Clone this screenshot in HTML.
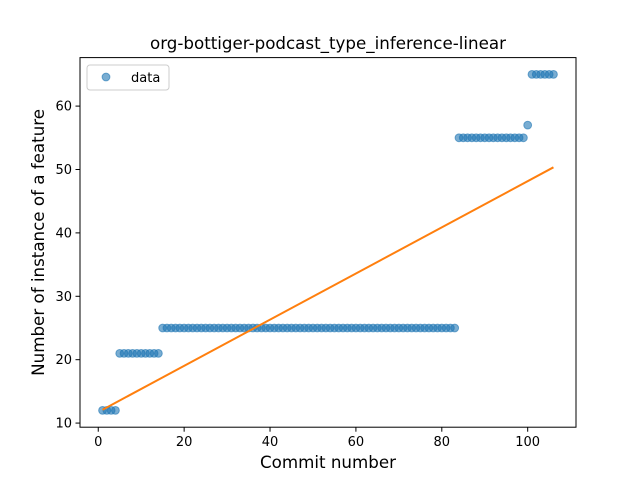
<!DOCTYPE html>
<html><head><meta charset="utf-8"><style>
body{margin:0;background:#fff}
svg{display:block;font-family:"DejaVu Sans","Liberation Sans",sans-serif}
</style></head><body>
<svg id="c" width="640" height="480" viewBox="0 0 640 480"></svg>
<script>
const xValues = [];
for (let i = 1; i <= 106; i++) xValues.push(i);
const yValues = [12,12,12,12,21,21,21,21,21,21,21,21,21,21,
25,25,25,25,25,25,25,25,25,25,25,25,25,25,25,25,25,25,25,25,25,25,25,25,25,25,25,25,25,25,25,25,25,25,25,25,25,25,25,25,25,25,25,25,25,25,25,25,25,25,25,25,25,25,25,25,25,25,25,25,25,25,25,25,25,25,25,25,25,
55,55,55,55,55,55,55,55,55,55,55,55,55,55,55,55,57,65,65,65,65,65,65];
const xTicks = [0,20,40,60,80,100];
const yTicks = [10,20,30,40,50,60];
const title = "org-bottiger-podcast_type_inference-linear";

const NS = "http://www.w3.org/2000/svg";
const svg = document.getElementById('c');
function mk(tag, attrs, parent) {
  const e = document.createElementNS(NS, tag);
  for (const k in attrs) e.setAttribute(k, attrs[k]);
  (parent || svg).appendChild(e);
  return e;
}
const L = 80, R = 576, T = 57.6, B = 427.2;
const n = xValues.length;
let sx=0, sy=0, sxx=0, sxy=0;
for (let i=0;i<n;i++){sx+=xValues[i];sy+=yValues[i];sxx+=xValues[i]*xValues[i];sxy+=xValues[i]*yValues[i];}
const slope = (n*sxy - sx*sy)/(n*sxx - sx*sx);
const icpt = (sy - slope*sx)/n;
const xmin0 = Math.min(...xValues), xmax0 = Math.max(...xValues);
const fitY0 = icpt + slope*xmin0, fitY1 = icpt + slope*xmax0;
const ymin0 = Math.min(...yValues, fitY0, fitY1), ymax0 = Math.max(...yValues, fitY0, fitY1);
const xm = (xmax0-xmin0)*0.05, ym = (ymax0-ymin0)*0.05;
const xlo = xmin0-xm, xhi = xmax0+xm, ylo = ymin0-ym, yhi = ymax0+ym;
const X = v => L + (v-xlo)/(xhi-xlo)*(R-L);
const Y = v => B - (v-ylo)/(yhi-ylo)*(B-T);

const pg = mk('g', {});


for (let i=0;i<n;i++){
  const c = mk('circle', {cx:X(xValues[i]), cy:Y(yValues[i]), r:3.9, fill:'#1f77b4', 'fill-opacity':0.6, stroke:'#1f77b4', 'stroke-opacity':0.6, 'stroke-width':1}, pg);
  
  
}
const fl = mk('line', {x1:X(xmin0), y1:Y(fitY0), x2:X(xmax0), y2:Y(fitY1), stroke:'#ff7f0e', 'stroke-width':2});



const frame = mk('rect', {x:L, y:T, width:R-L, height:B-T, fill:'none', stroke:'#000', 'stroke-width':1});



xTicks.forEach(t=>{
  const x = X(t);
  const tk = mk('line', {x1:x, y1:B, x2:x, y2:B+4.5, stroke:'#000', 'stroke-width':1});
  
  
  const tx = mk('text', {x:x, y:B+19, 'font-size':13, 'text-anchor':'middle'});
  tx.textContent = t;
  
  
});
yTicks.forEach(t=>{
  const y = Y(t);
  const tk = mk('line', {x1:L-4.5, y1:y, x2:L, y2:y, stroke:'#000', 'stroke-width':1});
  
  
  const tx = mk('text', {x:L-8, y:y+4.5, 'font-size':13, 'text-anchor':'end'});
  tx.textContent = t;
  
  
});
const tt = mk('text', {x:(L+R)/2, y:49, 'font-size':16.7, 'text-anchor':'middle'});
tt.textContent = title;


const xl = mk('text', {x:(L+R)/2, y:468, 'font-size':16.7, 'text-anchor':'middle'});
xl.textContent = 'Commit number';


const yl = mk('text', {x:0, y:0, 'font-size':16.7, 'text-anchor':'middle', transform:`translate(44,${(T+B)/2}) rotate(-90)`});
yl.textContent = 'Number of instance of a feature';



const lg = mk('g', {});


mk('rect', {x:87, y:65, width:82, height:25, rx:3, fill:'#fff', 'fill-opacity':0.8, stroke:'#ccc', 'stroke-width':1}, lg);
const lc = mk('circle', {cx:106, cy:77, r:3.9, fill:'#1f77b4', 'fill-opacity':0.6, stroke:'#1f77b4', 'stroke-opacity':0.6}, lg);


const lt = mk('text', {x:131, y:82, 'font-size':13}, lg);
lt.textContent = 'data';


</script>
</body></html>
